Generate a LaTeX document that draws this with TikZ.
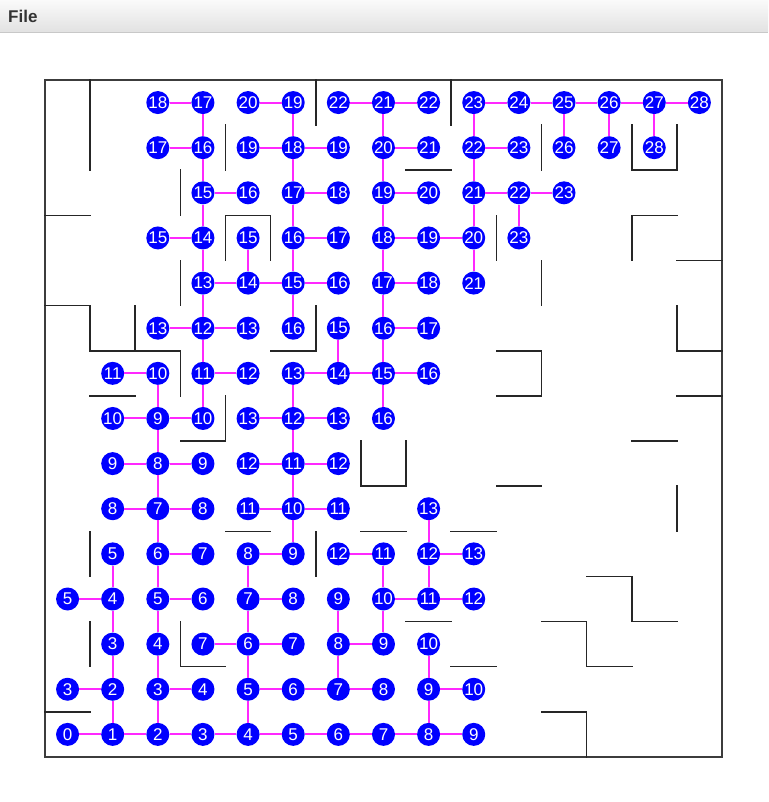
\documentclass[tikz,border=0pt]{standalone}
\usepackage{fontspec}
\setsansfont{Liberation Sans}
\definecolor{barTop}{RGB}{250,250,250}
\definecolor{barBot}{RGB}{226,226,226}
\definecolor{barLine}{RGB}{200,200,200}
\definecolor{linkPink}{RGB}{255,40,255}
\definecolor{frameGray}{RGB}{60,60,60}

\begin{document}
\begin{tikzpicture}[x=1pt,y=-1pt,
  cell/.style={circle, fill=blue, inner sep=0pt, minimum size=23pt, text=white,
    font=\sffamily\fontsize{17}{17}\selectfont},
  link/.style={draw=linkPink, line width=2pt},
  wall/.style={line width=1.6pt, black!85, line cap=rect},
  frame/.style={line width=1.8pt, frameGray}]
\useasboundingbox (0,0) rectangle (768,802);
\fill[white] (0,0) rectangle (768,802);
% menu bar
\shade[top color=barTop, bottom color=barBot] (0,0) rectangle (768,32);
\draw[barLine, line width=1pt] (0,32.5) -- (768,32.5);
\node[anchor=base west, inner sep=0pt, text=black!80,
  font=\sffamily\bfseries\fontsize{17}{17}\selectfont] (menu) at (8,22.5) {File};

\begin{scope}[shift={(45,80)}, x=45.13pt, y=-45.13pt]
\draw[frame] (0,0) rectangle (15,15);
% walls
\draw[wall] (1,0) -- (1,2);
\draw[wall] (0,3) -- (1,3);
\draw[wall] (4,1) -- (4,2);
\draw[wall] (3,2) -- (3,3);
\draw[wall] (4,4) -- (4,3) -- (5,3) -- (5,4);
\draw[wall] (3,4) -- (3,5);
\draw[wall] (0,5) -- (1,5) -- (1,6) -- (3,6) -- (3,7);
\draw[wall] (2,5) -- (2,6);
\draw[wall] (6,0) -- (6,1);
\draw[wall] (9,0) -- (9,1);
\draw[wall] (8,2) -- (9,2);
\draw[wall] (11,1) -- (11,2);
\draw[wall] (13,1) -- (13,2) -- (14,2) -- (14,1);
\draw[wall] (10,3) -- (10,4);
\draw[wall] (14,3) -- (13,3) -- (13,4);
\draw[wall] (14,4) -- (15,4);
\draw[wall] (11,4) -- (11,5);
\draw[wall] (14,5) -- (14,6) -- (15,6);
\draw[wall] (5,6) -- (6,6) -- (6,5);
\draw[wall] (10,6) -- (11,6) -- (11,7) -- (10,7);
\draw[wall] (14,7) -- (15,7);
\draw[wall] (1,7) -- (2,7);
\draw[wall] (4,7) -- (4,8) -- (3,8);
\draw[wall] (7,8) -- (7,9) -- (8,9) -- (8,8);
\draw[wall] (13,8) -- (14,8);
\draw[wall] (10,9) -- (11,9);
\draw[wall] (14,9) -- (14,10);
\draw[wall] (4,10) -- (5,10);
\draw[wall] (7,10) -- (8,10);
\draw[wall] (9,10) -- (10,10);
\draw[wall] (1,10) -- (1,11);
\draw[wall] (6,10) -- (6,11);
\draw[wall] (12,11) -- (13,11) -- (13,12) -- (14,12);
\draw[wall] (8,12) -- (9,12);
\draw[wall] (11,12) -- (12,12) -- (12,13) -- (13,13);
\draw[wall] (1,12) -- (1,13);
\draw[wall] (3,12) -- (3,13) -- (4,13);
\draw[wall] (9,13) -- (10,13);
\draw[wall] (0,14) -- (1,14);
\draw[wall] (11,14) -- (12,14) -- (12,15);
% row 0
\node[cell] (c2r0) at (2.5,0.5) {18};
\node[cell] (c3r0) at (3.5,0.5) {17};
\node[cell] (c4r0) at (4.5,0.5) {20};
\node[cell] (c5r0) at (5.5,0.5) {19};
\node[cell] (c6r0) at (6.5,0.5) {22};
\node[cell] (c7r0) at (7.5,0.5) {21};
\node[cell] (c8r0) at (8.5,0.5) {22};
\node[cell] (c9r0) at (9.5,0.5) {23};
\node[cell] (c10r0) at (10.5,0.5) {24};
\node[cell] (c11r0) at (11.5,0.5) {25};
\node[cell] (c12r0) at (12.5,0.5) {26};
\node[cell] (c13r0) at (13.5,0.5) {27};
\node[cell] (c14r0) at (14.5,0.5) {28};
% row 1
\node[cell] (c2r1) at (2.5,1.5) {17};
\node[cell] (c3r1) at (3.5,1.5) {16};
\node[cell] (c4r1) at (4.5,1.5) {19};
\node[cell] (c5r1) at (5.5,1.5) {18};
\node[cell] (c6r1) at (6.5,1.5) {19};
\node[cell] (c7r1) at (7.5,1.5) {20};
\node[cell] (c8r1) at (8.5,1.5) {21};
\node[cell] (c9r1) at (9.5,1.5) {22};
\node[cell] (c10r1) at (10.5,1.5) {23};
\node[cell] (c11r1) at (11.5,1.5) {26};
\node[cell] (c12r1) at (12.5,1.5) {27};
\node[cell] (c13r1) at (13.5,1.5) {28};
% row 2
\node[cell] (c3r2) at (3.5,2.5) {15};
\node[cell] (c4r2) at (4.5,2.5) {16};
\node[cell] (c5r2) at (5.5,2.5) {17};
\node[cell] (c6r2) at (6.5,2.5) {18};
\node[cell] (c7r2) at (7.5,2.5) {19};
\node[cell] (c8r2) at (8.5,2.5) {20};
\node[cell] (c9r2) at (9.5,2.5) {21};
\node[cell] (c10r2) at (10.5,2.5) {22};
\node[cell] (c11r2) at (11.5,2.5) {23};
% row 3
\node[cell] (c2r3) at (2.5,3.5) {15};
\node[cell] (c3r3) at (3.5,3.5) {14};
\node[cell] (c4r3) at (4.5,3.5) {15};
\node[cell] (c5r3) at (5.5,3.5) {16};
\node[cell] (c6r3) at (6.5,3.5) {17};
\node[cell] (c7r3) at (7.5,3.5) {18};
\node[cell] (c8r3) at (8.5,3.5) {19};
\node[cell] (c9r3) at (9.5,3.5) {20};
\node[cell] (c10r3) at (10.5,3.5) {23};
% row 4
\node[cell] (c3r4) at (3.5,4.5) {13};
\node[cell] (c4r4) at (4.5,4.5) {14};
\node[cell] (c5r4) at (5.5,4.5) {15};
\node[cell] (c6r4) at (6.5,4.5) {16};
\node[cell] (c7r4) at (7.5,4.5) {17};
\node[cell] (c8r4) at (8.5,4.5) {18};
\node[cell] (c9r4) at (9.5,4.5) {21};
% row 5
\node[cell] (c2r5) at (2.5,5.5) {13};
\node[cell] (c3r5) at (3.5,5.5) {12};
\node[cell] (c4r5) at (4.5,5.5) {13};
\node[cell] (c5r5) at (5.5,5.5) {16};
\node[cell] (c6r5) at (6.5,5.5) {15};
\node[cell] (c7r5) at (7.5,5.5) {16};
\node[cell] (c8r5) at (8.5,5.5) {17};
% row 6
\node[cell] (c1r6) at (1.5,6.5) {11};
\node[cell] (c2r6) at (2.5,6.5) {10};
\node[cell] (c3r6) at (3.5,6.5) {11};
\node[cell] (c4r6) at (4.5,6.5) {12};
\node[cell] (c5r6) at (5.5,6.5) {13};
\node[cell] (c6r6) at (6.5,6.5) {14};
\node[cell] (c7r6) at (7.5,6.5) {15};
\node[cell] (c8r6) at (8.5,6.5) {16};
% row 7
\node[cell] (c1r7) at (1.5,7.5) {10};
\node[cell] (c2r7) at (2.5,7.5) {9};
\node[cell] (c3r7) at (3.5,7.5) {10};
\node[cell] (c4r7) at (4.5,7.5) {13};
\node[cell] (c5r7) at (5.5,7.5) {12};
\node[cell] (c6r7) at (6.5,7.5) {13};
\node[cell] (c7r7) at (7.5,7.5) {16};
% row 8
\node[cell] (c1r8) at (1.5,8.5) {9};
\node[cell] (c2r8) at (2.5,8.5) {8};
\node[cell] (c3r8) at (3.5,8.5) {9};
\node[cell] (c4r8) at (4.5,8.5) {12};
\node[cell] (c5r8) at (5.5,8.5) {11};
\node[cell] (c6r8) at (6.5,8.5) {12};
% row 9
\node[cell] (c1r9) at (1.5,9.5) {8};
\node[cell] (c2r9) at (2.5,9.5) {7};
\node[cell] (c3r9) at (3.5,9.5) {8};
\node[cell] (c4r9) at (4.5,9.5) {11};
\node[cell] (c5r9) at (5.5,9.5) {10};
\node[cell] (c6r9) at (6.5,9.5) {11};
\node[cell] (c8r9) at (8.5,9.5) {13};
% row 10
\node[cell] (c1r10) at (1.5,10.5) {5};
\node[cell] (c2r10) at (2.5,10.5) {6};
\node[cell] (c3r10) at (3.5,10.5) {7};
\node[cell] (c4r10) at (4.5,10.5) {8};
\node[cell] (c5r10) at (5.5,10.5) {9};
\node[cell] (c6r10) at (6.5,10.5) {12};
\node[cell] (c7r10) at (7.5,10.5) {11};
\node[cell] (c8r10) at (8.5,10.5) {12};
\node[cell] (c9r10) at (9.5,10.5) {13};
% row 11
\node[cell] (c0r11) at (0.5,11.5) {5};
\node[cell] (c1r11) at (1.5,11.5) {4};
\node[cell] (c2r11) at (2.5,11.5) {5};
\node[cell] (c3r11) at (3.5,11.5) {6};
\node[cell] (c4r11) at (4.5,11.5) {7};
\node[cell] (c5r11) at (5.5,11.5) {8};
\node[cell] (c6r11) at (6.5,11.5) {9};
\node[cell] (c7r11) at (7.5,11.5) {10};
\node[cell] (c8r11) at (8.5,11.5) {11};
\node[cell] (c9r11) at (9.5,11.5) {12};
% row 12
\node[cell] (c1r12) at (1.5,12.5) {3};
\node[cell] (c2r12) at (2.5,12.5) {4};
\node[cell] (c3r12) at (3.5,12.5) {7};
\node[cell] (c4r12) at (4.5,12.5) {6};
\node[cell] (c5r12) at (5.5,12.5) {7};
\node[cell] (c6r12) at (6.5,12.5) {8};
\node[cell] (c7r12) at (7.5,12.5) {9};
\node[cell] (c8r12) at (8.5,12.5) {10};
% row 13
\node[cell] (c0r13) at (0.5,13.5) {3};
\node[cell] (c1r13) at (1.5,13.5) {2};
\node[cell] (c2r13) at (2.5,13.5) {3};
\node[cell] (c3r13) at (3.5,13.5) {4};
\node[cell] (c4r13) at (4.5,13.5) {5};
\node[cell] (c5r13) at (5.5,13.5) {6};
\node[cell] (c6r13) at (6.5,13.5) {7};
\node[cell] (c7r13) at (7.5,13.5) {8};
\node[cell] (c8r13) at (8.5,13.5) {9};
\node[cell] (c9r13) at (9.5,13.5) {10};
% row 14
\node[cell] (c0r14) at (0.5,14.5) {0};
\node[cell] (c1r14) at (1.5,14.5) {1};
\node[cell] (c2r14) at (2.5,14.5) {2};
\node[cell] (c3r14) at (3.5,14.5) {3};
\node[cell] (c4r14) at (4.5,14.5) {4};
\node[cell] (c5r14) at (5.5,14.5) {5};
\node[cell] (c6r14) at (6.5,14.5) {6};
\node[cell] (c7r14) at (7.5,14.5) {7};
\node[cell] (c8r14) at (8.5,14.5) {8};
\node[cell] (c9r14) at (9.5,14.5) {9};
% links
\draw[link] (c0r14) -- (c1r14);
\draw[link] (c1r14) -- (c2r14);
\draw[link] (c2r14) -- (c3r14);
\draw[link] (c3r14) -- (c4r14);
\draw[link] (c4r14) -- (c5r14);
\draw[link] (c5r14) -- (c6r14);
\draw[link] (c6r14) -- (c7r14);
\draw[link] (c7r14) -- (c8r14);
\draw[link] (c8r14) -- (c9r14);
\draw[link] (c1r14) -- (c1r13);
\draw[link] (c2r14) -- (c2r13);
\draw[link] (c4r14) -- (c4r13);
\draw[link] (c8r14) -- (c8r13);
\draw[link] (c0r13) -- (c1r13);
\draw[link] (c2r13) -- (c3r13);
\draw[link] (c4r13) -- (c5r13);
\draw[link] (c5r13) -- (c6r13);
\draw[link] (c6r13) -- (c7r13);
\draw[link] (c8r13) -- (c9r13);
\draw[link] (c1r13) -- (c1r12);
\draw[link] (c2r13) -- (c2r12);
\draw[link] (c4r13) -- (c4r12);
\draw[link] (c6r13) -- (c6r12);
\draw[link] (c8r13) -- (c8r12);
\draw[link] (c3r12) -- (c4r12);
\draw[link] (c4r12) -- (c5r12);
\draw[link] (c6r12) -- (c7r12);
\draw[link] (c1r12) -- (c1r11);
\draw[link] (c2r12) -- (c2r11);
\draw[link] (c4r12) -- (c4r11);
\draw[link] (c6r12) -- (c6r11);
\draw[link] (c7r12) -- (c7r11);
\draw[link] (c0r11) -- (c1r11);
\draw[link] (c2r11) -- (c3r11);
\draw[link] (c4r11) -- (c5r11);
\draw[link] (c7r11) -- (c8r11);
\draw[link] (c8r11) -- (c9r11);
\draw[link] (c1r11) -- (c1r10);
\draw[link] (c2r11) -- (c2r10);
\draw[link] (c4r11) -- (c4r10);
\draw[link] (c7r11) -- (c7r10);
\draw[link] (c8r11) -- (c8r10);
\draw[link] (c2r10) -- (c3r10);
\draw[link] (c4r10) -- (c5r10);
\draw[link] (c6r10) -- (c7r10);
\draw[link] (c8r10) -- (c9r10);
\draw[link] (c2r10) -- (c2r9);
\draw[link] (c5r10) -- (c5r9);
\draw[link] (c8r10) -- (c8r9);
\draw[link] (c1r9) -- (c2r9);
\draw[link] (c2r9) -- (c3r9);
\draw[link] (c4r9) -- (c5r9);
\draw[link] (c5r9) -- (c6r9);
\draw[link] (c2r9) -- (c2r8);
\draw[link] (c5r9) -- (c5r8);
\draw[link] (c1r8) -- (c2r8);
\draw[link] (c2r8) -- (c3r8);
\draw[link] (c4r8) -- (c5r8);
\draw[link] (c5r8) -- (c6r8);
\draw[link] (c2r8) -- (c2r7);
\draw[link] (c5r8) -- (c5r7);
\draw[link] (c1r7) -- (c2r7);
\draw[link] (c2r7) -- (c3r7);
\draw[link] (c4r7) -- (c5r7);
\draw[link] (c5r7) -- (c6r7);
\draw[link] (c2r7) -- (c2r6);
\draw[link] (c3r7) -- (c3r6);
\draw[link] (c5r7) -- (c5r6);
\draw[link] (c7r7) -- (c7r6);
\draw[link] (c1r6) -- (c2r6);
\draw[link] (c3r6) -- (c4r6);
\draw[link] (c5r6) -- (c6r6);
\draw[link] (c6r6) -- (c7r6);
\draw[link] (c7r6) -- (c8r6);
\draw[link] (c3r6) -- (c3r5);
\draw[link] (c6r6) -- (c6r5);
\draw[link] (c7r6) -- (c7r5);
\draw[link] (c2r5) -- (c3r5);
\draw[link] (c3r5) -- (c4r5);
\draw[link] (c7r5) -- (c8r5);
\draw[link] (c3r5) -- (c3r4);
\draw[link] (c5r5) -- (c5r4);
\draw[link] (c7r5) -- (c7r4);
\draw[link] (c3r4) -- (c4r4);
\draw[link] (c4r4) -- (c5r4);
\draw[link] (c5r4) -- (c6r4);
\draw[link] (c7r4) -- (c8r4);
\draw[link] (c3r4) -- (c3r3);
\draw[link] (c4r4) -- (c4r3);
\draw[link] (c5r4) -- (c5r3);
\draw[link] (c7r4) -- (c7r3);
\draw[link] (c9r4) -- (c9r3);
\draw[link] (c2r3) -- (c3r3);
\draw[link] (c5r3) -- (c6r3);
\draw[link] (c7r3) -- (c8r3);
\draw[link] (c8r3) -- (c9r3);
\draw[link] (c3r3) -- (c3r2);
\draw[link] (c5r3) -- (c5r2);
\draw[link] (c7r3) -- (c7r2);
\draw[link] (c9r3) -- (c9r2);
\draw[link] (c10r3) -- (c10r2);
\draw[link] (c3r2) -- (c4r2);
\draw[link] (c5r2) -- (c6r2);
\draw[link] (c7r2) -- (c8r2);
\draw[link] (c9r2) -- (c10r2);
\draw[link] (c10r2) -- (c11r2);
\draw[link] (c3r2) -- (c3r1);
\draw[link] (c5r2) -- (c5r1);
\draw[link] (c7r2) -- (c7r1);
\draw[link] (c9r2) -- (c9r1);
\draw[link] (c2r1) -- (c3r1);
\draw[link] (c4r1) -- (c5r1);
\draw[link] (c5r1) -- (c6r1);
\draw[link] (c7r1) -- (c8r1);
\draw[link] (c9r1) -- (c10r1);
\draw[link] (c3r1) -- (c3r0);
\draw[link] (c5r1) -- (c5r0);
\draw[link] (c7r1) -- (c7r0);
\draw[link] (c9r1) -- (c9r0);
\draw[link] (c11r1) -- (c11r0);
\draw[link] (c12r1) -- (c12r0);
\draw[link] (c13r1) -- (c13r0);
\draw[link] (c2r0) -- (c3r0);
\draw[link] (c4r0) -- (c5r0);
\draw[link] (c6r0) -- (c7r0);
\draw[link] (c7r0) -- (c8r0);
\draw[link] (c9r0) -- (c10r0);
\draw[link] (c10r0) -- (c11r0);
\draw[link] (c11r0) -- (c12r0);
\draw[link] (c12r0) -- (c13r0);
\draw[link] (c13r0) -- (c14r0);
\end{scope}
\end{tikzpicture}
\end{document}
